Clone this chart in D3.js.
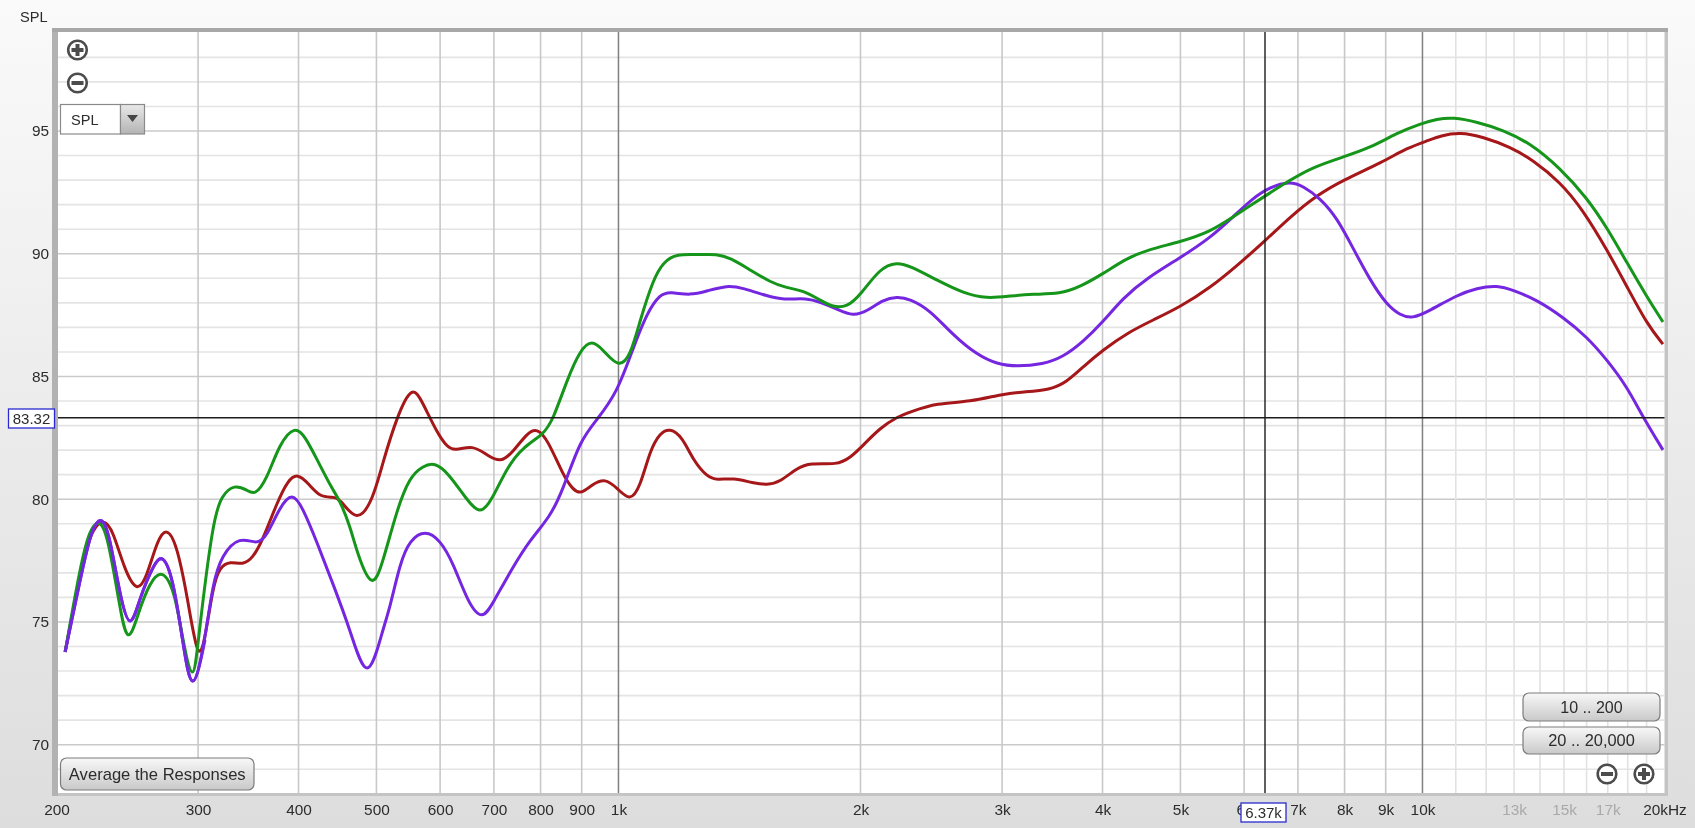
<!DOCTYPE html>
<html><head><meta charset="utf-8">
<script src="https://cdn.jsdelivr.net/npm/d3@7/dist/d3.min.js"></script>
<style>html,body{margin:0;padding:0;background:#e4e4e4;overflow:hidden}svg{display:block;filter:blur(0.45px)}text{font-family:"Liberation Sans",Arial,sans-serif}</style>
</head><body><svg id="c" width="1695" height="828"></svg>
<script>
const redFreqs=[205,216,222,229,235,243,252,259,267,274,282,291,300,306,313,319,329,341,351,361,376,388,399,411,425,441,450,473,495,509,530,554,571,595,612,626,659,686,714,739,770,792,817,853,878,898,929,962,996,1034,1064,1095,1126,1159,1200,1238,1289,1326,1388,1470,1530,1588,1667,1731,1870,1941,2017,2115,2220,2304,2489,2737,3007,3185,3441,3613,3782,4004,4291,4622,4993,5441,5930,6370,6843,7393,7965,8933,9565,10200,10515,11130,11890,12850,13720,14830,15840,16970,17970,19020,19910];
const redValues=[73.78,77.65,78.83,79.2,78.75,77.12,76.18,76.83,78.34,78.85,78.22,76.02,73.3,74.27,76.43,77.24,77.48,77.32,77.61,78.34,79.85,80.78,81.05,80.66,80.09,80.09,80.05,79.0,79.97,81.48,83.35,84.7,83.92,82.7,82.13,81.97,82.21,81.8,81.48,81.92,82.7,82.9,82.41,80.99,80.38,80.2,80.62,80.85,80.46,79.9,80.5,82.01,82.7,82.9,82.54,81.6,80.91,80.78,80.87,80.66,80.58,80.7,81.27,81.48,81.4,81.68,82.21,82.9,83.35,83.55,83.92,83.96,84.29,84.37,84.45,84.78,85.39,86.08,86.77,87.3,87.83,88.6,89.62,90.52,91.5,92.39,93,93.74,94.31,94.63,94.8,94.95,94.76,94.35,93.82,92.92,91.78,90.15,88.65,87.14,86.32];
const greenFreqs=[205,214,220,227,232,239,245,253,261,271,281,287,296,300,313,321,333,345,353,365,379,396,408,422,441,450,464,473,494,509,530,550,571,591,614,648,673,696,727,761,806,829,863,896,927,957,1000,1034,1064,1104,1136,1183,1253,1326,1377,1458,1543,1620,1692,1781,1848,1924,2000,2115,2220,2304,2489,2682,2873,3068,3277,3541,3750,4004,4291,4582,4993,5441,5812,6370,6843,7308,7965,8603,9296,9928,10430,10910,11690,12590,13610,14830,16020,16970,17970,19020,19910];
const greenValues=[73.78,77.24,78.83,79.2,78.34,75.9,73.9,75.41,76.59,77.2,76.18,74.27,72.3,74.27,79.15,80.17,80.6,80.38,80.15,80.78,82.29,83,82.54,81.6,80.38,79.97,78.87,77.81,76.25,77.4,79.56,80.91,81.35,81.5,81.07,79.97,79.35,79.97,81.31,82.13,82.62,83.23,84.86,86.08,86.5,86.08,85.35,85.79,87.3,88.93,89.66,90,89.95,90,89.83,89.34,88.85,88.6,88.52,88.12,87.82,87.82,88.32,89.42,89.66,89.5,88.93,88.4,88.17,88.28,88.36,88.36,88.65,89.18,89.83,90.19,90.48,90.89,91.5,92.35,93,93.53,93.94,94.31,94.92,95.29,95.49,95.56,95.37,95.04,94.51,93.49,92.27,91.05,89.62,88.24,87.22];
const purpleFreqs=[205,214,221,228,233,240,247,254,264,271,279,287,295,306,313,321,338,355,365,379,393,405,422,441,464,487,509,520,535,550,575,600,623,650,677,698,739,776,822,853,896,940,996,1043,1085,1126,1159,1228,1289,1365,1429,1530,1602,1716,1781,1870,1958,2040,2132,2220,2304,2440,2606,2792,2957,3130,3373,3572,3782,4004,4242,4543,4993,5441,5812,6155,6462,6843,7103,7456,7830,8196,8603,9031,9376,9703,10200,11040,11690,12380,12960,13880,14950,16020,16970,17970,18800,19910];
const purpleValues=[73.78,76.71,78.83,79.35,78.46,76.02,74.55,76.02,77.32,77.8,76.83,74.27,71.75,74.27,76.59,77.73,78.5,78.15,78.46,79.68,80.3,79.64,78.22,76.59,74.67,72.35,74.67,75.61,77.4,78.34,78.75,78.34,77.4,75.77,75.05,75.77,77.24,78.34,79.28,80.38,82.41,83.23,84.33,86.16,87.59,88.35,88.45,88.3,88.48,88.72,88.6,88.28,88.12,88.2,88.03,87.75,87.45,87.67,88.12,88.26,88.16,87.71,86.69,85.88,85.5,85.4,85.5,85.79,86.41,87.22,88.2,89.01,89.83,90.64,91.5,92.27,92.72,92.95,92.76,92.27,91.46,90.23,88.93,87.91,87.5,87.35,87.67,88.32,88.6,88.72,88.52,88.12,87.42,86.61,85.67,84.57,83.35,82.01];
const seriesColors={red:"#a51719",green:"#15951a",purple:"#7526e0"};
const majorFreqs=[200,300,400,500,600,700,800,900,1000,2000,3000,4000,5000,6000,7000,8000,9000,10000];
const minorFreqs=[11000,12000,13000,14000,15000,16000,17000,18000,19000];
const strongFreqs=[1000,10000];
const freqLabels=[200,300,400,500,600,700,800,900,1000,2000,3000,4000,5000,6000,7000,8000,9000,10000,13000,15000,17000,20000];
const dimLabels=[13000,15000,17000];
const dbLabels=[70,75,80,85,90,95];
const dbLines=d3.range(69,99);
const crossFreq=6370, crossDb=83.32;

const L=56.5,R=1664.5,T=32,B=793;
const svg=d3.select("#c");
const defs=svg.append("defs");
function grad(id,stops){const g=defs.append("linearGradient").attr("id",id).attr("x1",0).attr("y1",0).attr("x2",0).attr("y2",1);
 stops.forEach(s=>g.append("stop").attr("offset",s[0]).attr("stop-color",s[1]));}
grad("bg",[[0,"#fafafa"],[0.35,"#f0f0f0"],[1,"#dddddd"]]);
grad("btn",[[0,"#f8f8f8"],[1,"#c9c9c9"]]);
grad("arrow",[[0,"#e8e8e8"],[1,"#b4b4b4"]]);
svg.append("rect").attr("width",1695).attr("height",828).attr("fill","url(#bg)");

const x=d3.scaleLog().domain([200,20000]).range([L,R]);
const y=d3.scaleLinear().domain([70,95]).range([744.7,131]);

// frame: heavy shadow on the left and top, light edge on the right and bottom
svg.append("rect").attr("x",54).attr("y",29).attr("width",1614).attr("height",767).attr("fill","#c4c4c4");
svg.append("rect").attr("x",52).attr("y",29).attr("width",6).attr("height",767).attr("fill","#b2b2b2");
svg.append("rect").attr("x",52).attr("y",28).attr("width",1616).attr("height",4).attr("fill","#a8a8a8");
svg.append("rect").attr("x",58).attr("y",T).attr("width",R-58).attr("height",B-T).attr("fill","#fff");

const plot=svg.append("g");
plot.selectAll(".h").data(dbLines).join("line").attr("x1",58).attr("x2",R)
 .attr("y1",d=>y(d)).attr("y2",d=>y(d))
 .attr("stroke",d=>d%5===0?"#cacaca":"#e4e4e4").attr("stroke-width",1.6);
plot.selectAll(".m").data(minorFreqs).join("line").attr("y1",T).attr("y2",B)
 .attr("x1",d=>x(d)).attr("x2",d=>x(d)).attr("stroke","#e2e2e2").attr("stroke-width",1.6);
plot.selectAll(".v").data(majorFreqs.filter(d=>d>200)).join("line").attr("y1",T).attr("y2",B)
 .attr("x1",d=>x(d)).attr("x2",d=>x(d))
 .attr("stroke",d=>strongFreqs.includes(d)?"#808080":"#c8c8c8").attr("stroke-width",d=>strongFreqs.includes(d)?1.5:1.6);

const line=d3.line().x(d=>x(d[0])).y(d=>y(d[1])).curve(d3.curveBasis);
[[redFreqs,redValues,seriesColors.red],[purpleFreqs,purpleValues,seriesColors.purple],[greenFreqs,greenValues,seriesColors.green]]
 .forEach(([f,v,c])=>{plot.append("path").attr("d",line(d3.zip(f,v))).attr("fill","none").attr("stroke",c)
  .attr("stroke-width",3).attr("stroke-linejoin","round");});
// purple sits on top where the three responses overlap at the far left
plot.append("path").attr("d",line(d3.zip(purpleFreqs.slice(0,14),purpleValues.slice(0,14)))).attr("fill","none")
 .attr("stroke",seriesColors.purple).attr("stroke-width",3);

// axes
const fmt=d=>d===20000?"20kHz":d>=1000?(d/1000)+"k":String(d);
const ax=svg.append("g").attr("transform",`translate(0,${B})`)
 .call(d3.axisBottom(x).tickValues(freqLabels).tickFormat(fmt).tickSize(0).tickPadding(11));
ax.select(".domain").remove();
ax.selectAll("text").attr("font-size",15.4).attr("font-family","Liberation Sans").attr("fill",d=>dimLabels.includes(d)?"#a9a9a9":"#2c2c2c");
const ay=svg.append("g").attr("transform","translate(49,0)")
 .call(d3.axisLeft(y).tickValues(dbLabels).tickFormat(d3.format("d")).tickSize(0).tickPadding(0));
ay.select(".domain").remove();
ay.selectAll("text").attr("font-size",15.4).attr("font-family","Liberation Sans").attr("fill","#2c2c2c");
svg.append("text").attr("x",20).attr("y",22).attr("font-size",14.6).attr("fill","#2c2c2c").text("SPL");

// crosshair
svg.append("line").attr("x1",58).attr("x2",R).attr("y1",y(crossDb)).attr("y2",y(crossDb)).attr("stroke","#1c1c1c").attr("stroke-width",1.4);
svg.append("line").attr("y1",T).attr("y2",B).attr("x1",x(crossFreq)).attr("x2",x(crossFreq)).attr("stroke","#1c1c1c").attr("stroke-width",1.4);
function tag(bx,by,w,h,t){svg.append("rect").attr("x",bx).attr("y",by).attr("width",w).attr("height",h).attr("fill","#fff").attr("stroke","#2a2ad0").attr("stroke-width",1.3);
 svg.append("text").attr("x",bx+w/2).attr("y",by+h/2+5).attr("text-anchor","middle").attr("font-size",15).attr("fill","#2c2c2c").text(t);}
tag(8.5,409,46,19,d3.format(".2f")(crossDb));
tag(1241,803,45,19,"6.37k");

// controls
function button(bx,by,w,h,t,size){svg.append("rect").attr("x",bx).attr("y",by).attr("width",w).attr("height",h).attr("rx",6).attr("fill","url(#btn)").attr("stroke","#7c7c7c").attr("stroke-width",1.2);
 svg.append("text").attr("x",bx+w/2).attr("y",by+h/2+5.5).attr("text-anchor","middle").attr("font-size",size).attr("fill","#2c2c2c").text(t);}
button(60.5,758,193.5,32,"Average the Responses",16.6);
button(1523,693,137,28,"10 .. 200",16);
button(1523,727,137,27,"20 .. 20,000",16.4);
function icon(cx,cy,plus){const g=svg.append("g");
 g.append("circle").attr("cx",cx).attr("cy",cy).attr("r",9.3).attr("fill","#fff").attr("stroke","#4c4c4c").attr("stroke-width",2.6);
 g.append("rect").attr("x",cx-6).attr("y",cy-2).attr("width",12).attr("height",4).attr("fill","#4c4c4c");
 if(plus)g.append("rect").attr("x",cx-2).attr("y",cy-6).attr("width",4).attr("height",12).attr("fill","#4c4c4c");}
icon(77.5,50,true);icon(77.5,83,false);icon(1607,774,false);icon(1644,774,true);
svg.append("rect").attr("x",60.5).attr("y",104.5).attr("width",60).attr("height",29.5).attr("fill","#fff").attr("stroke","#8a8a8a").attr("stroke-width",1.2);
svg.append("rect").attr("x",120.5).attr("y",104.5).attr("width",24).attr("height",29.5).attr("fill","url(#arrow)").attr("stroke","#8a8a8a").attr("stroke-width",1.2);
svg.append("path").attr("d","M127 115 H138 L132.5 122 Z").attr("fill","#444");
svg.append("text").attr("x",71).attr("y",125).attr("font-size",14.6).attr("fill","#2c2c2c").text("SPL");
</script></body></html>
